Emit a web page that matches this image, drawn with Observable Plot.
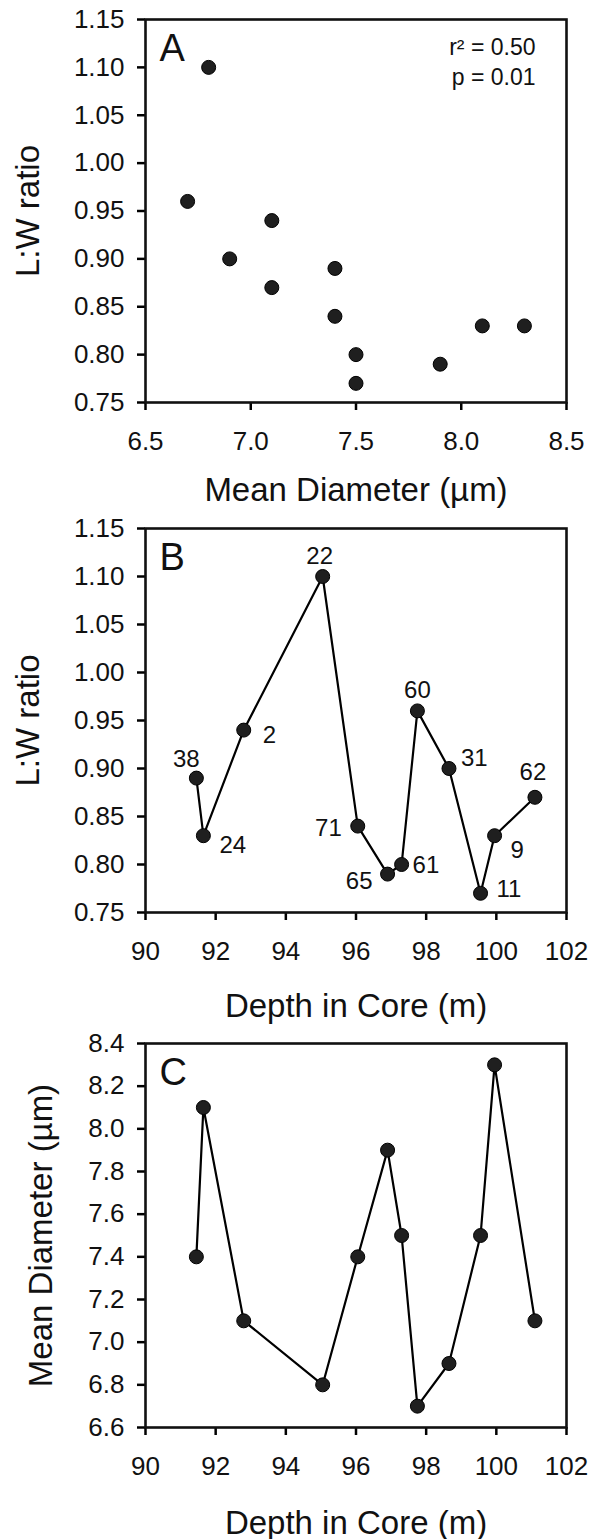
<!DOCTYPE html>
<html><head><meta charset="utf-8">
<script src="https://cdn.jsdelivr.net/npm/d3@7"></script>
<script src="https://cdn.jsdelivr.net/npm/@observablehq/plot@0.6"></script>
<style>
html,body{margin:0;padding:0;background:#fff;}
#chart svg{display:block;}
</style></head><body><div id="chart"></div>
<script>
// ---- data ----
const sampleIds = ["38","24","2","22","71","65","61","60","31","11","9","62"];
const depthM = [91.45, 91.65, 92.8, 95.05, 96.05, 96.9, 97.3, 97.75, 98.65, 99.55, 99.95, 101.1];
const lwRatio = [0.89, 0.83, 0.94, 1.10, 0.84, 0.79, 0.80, 0.96, 0.90, 0.77, 0.83, 0.87];
const meanDiameter = [7.4, 8.1, 7.1, 6.8, 7.4, 7.9, 7.5, 6.7, 6.9, 7.5, 8.3, 7.1];
const lwTicks = [0.75, 0.80, 0.85, 0.90, 0.95, 1.00, 1.05, 1.10, 1.15];
const diameterTicksA = [6.5, 7.0, 7.5, 8.0, 8.5];
const depthTicks = [90, 92, 94, 96, 98, 100, 102];
const diameterTicksC = [6.6, 6.8, 7.0, 7.2, 7.4, 7.6, 7.8, 8.0, 8.2, 8.4];
const panelLetters = ["A", "B", "C"];
const statsLines = ["r\u00b2 = 0.50", "p = 0.01"];
const titleLW = "L:W ratio";
const titleDiameter = "Mean Diameter (\u00b5m)";
const titleDepth = "Depth in Core (m)";

// ---- rendering ----
const FONT = "'Liberation Sans', Arial, Helvetica, sans-serif";
const TICK_FS = 26, TITLE_FS = 33, LETTER_FS = 38, LABEL_FS = 24;
const idx = d3.range(sampleIds.length);
const W = 601, ML = 145, MR = 35;

// label placement per sample: [dx, dy, anchor]
const labelPlace = {
  "38": [-10, -19, "middle"], "24": [16, 10, "start"], "2": [19, 5, "start"],
  "22": [-3, -20, "middle"], "71": [-16, 2, "end"], "65": [-15, 7, "end"],
  "61": [11, 1, "start"], "60": [0, -21, "middle"], "31": [12, -10, "start"],
  "11": [16, -4, "start"], "9": [16, 15, "start"], "62": [-2, -25, "middle"]
};

function axes(xTicks, xFmt, yTicks, yFmt) {
  return [
    Plot.axisX({ticks: xTicks, tickFormat: xFmt, tickSize: 8, tickPadding: 21, fontSize: TICK_FS, strokeWidth: 2.5, label: null, fill: "#111"}),
    Plot.axisY({ticks: yTicks, tickFormat: yFmt, tickSize: 8, tickPadding: 13, fontSize: TICK_FS, strokeWidth: 2.5, label: null, fill: "#111"}),
    Plot.frame({stroke: "#111", strokeWidth: 2.6})
  ];
}
function titles(xTitle, xOff, yTitle, yOff, letter) {
  return [
    Plot.text([xTitle], {frameAnchor: "bottom", dy: xOff, lineAnchor: "middle", fontSize: TITLE_FS, fill: "#111"}),
    Plot.text([yTitle], {frameAnchor: "left", dx: yOff, rotate: -90, textAnchor: "middle", lineAnchor: "middle", fontSize: TITLE_FS, fill: "#111"}),
    Plot.text([letter], {frameAnchor: "top-left", dx: 14, dy: 29, textAnchor: "start", lineAnchor: "middle", fontSize: LETTER_FS, fill: "#111"})
  ];
}
function mk(opts) {
  return Plot.plot({
    width: W, height: opts.height, marginLeft: ML, marginRight: MR,
    marginTop: opts.mt, marginBottom: opts.mb,
    style: {fontFamily: FONT, background: "#fff", overflow: "visible"},
    x: {domain: opts.xd}, y: {domain: opts.yd},
    marks: opts.marks
  });
}
const dotStyle = {r: 7, fill: "#1f1f1f", stroke: "#000", strokeWidth: 1};

const chartA = mk({
  height: 510, mt: 19, mb: 108, xd: [6.5, 8.5], yd: [0.75, 1.15],
  marks: [
    ...axes(diameterTicksA, d3.format(".1f"), lwTicks, d3.format(".2f")),
    Plot.dot(idx, {x: i => meanDiameter[i], y: i => lwRatio[i], ...dotStyle}),
    Plot.text([statsLines[0]], {frameAnchor: "top-right", dx: -31, dy: 28, textAnchor: "end", lineAnchor: "middle", fontSize: 23, fill: "#111"}),
    Plot.text([statsLines[1]], {frameAnchor: "top-right", dx: -31, dy: 58, textAnchor: "end", lineAnchor: "middle", fontSize: 23, fill: "#111"}),
    ...titles(titleDiameter, 88, titleLW, -117, panelLetters[0])
  ]
});

const chartB = mk({
  height: 510, mt: 18, mb: 108, xd: [90, 102], yd: [0.75, 1.15],
  marks: [
    ...axes(depthTicks, d3.format("d"), lwTicks, d3.format(".2f")),
    Plot.line(idx, {x: i => depthM[i], y: i => lwRatio[i], stroke: "#000", strokeWidth: 2.2}),
    Plot.dot(idx, {x: i => depthM[i], y: i => lwRatio[i], ...dotStyle}),
    ...idx.map(i => {
      const [dx, dy, anchor] = labelPlace[sampleIds[i]];
      return Plot.text([i], {x: i => depthM[i], y: i => lwRatio[i], text: i => sampleIds[i], dx, dy, textAnchor: anchor, lineAnchor: "middle", fontSize: LABEL_FS, fill: "#111"});
    }),
    ...titles(titleDepth, 94, titleLW, -117, panelLetters[1])
  ]
});

const chartC = mk({
  height: 519, mt: 23, mb: 112, xd: [90, 102], yd: [6.6, 8.4],
  marks: [
    ...axes(depthTicks, d3.format("d"), diameterTicksC, d3.format(".1f")),
    Plot.line(idx, {x: i => depthM[i], y: i => meanDiameter[i], stroke: "#000", strokeWidth: 2.2}),
    Plot.dot(idx, {x: i => depthM[i], y: i => meanDiameter[i], ...dotStyle}),
    ...titles(titleDepth, 96, titleDiameter, -104, panelLetters[2])
  ]
});

const root = document.getElementById("chart");
root.append(chartA, chartB, chartC);
</script>
</body></html>
